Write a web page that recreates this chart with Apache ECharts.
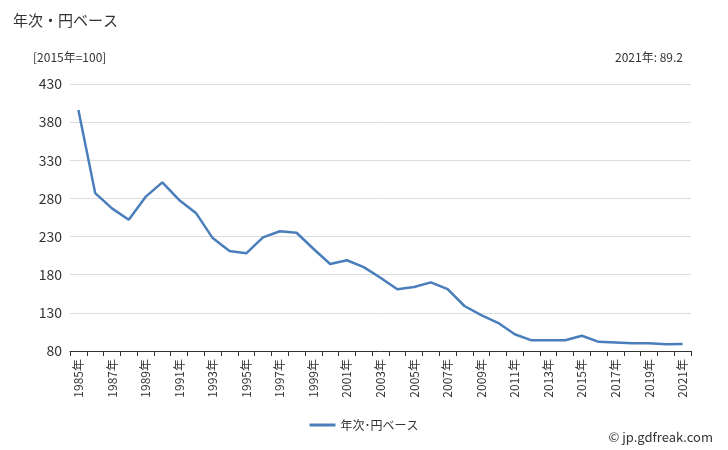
<!DOCTYPE html>
<html>
<head>
<meta charset="utf-8">
<script src="https://cdn.jsdelivr.net/npm/echarts@6/dist/echarts.min.js"></script>
<style>body{margin:0}#chart{width:728px;height:450px}</style>
</head>
<body>
<div id="chart"></div>
<script>
var years = [];
for (var y = 1985; y <= 2021; y++) years.push(y + '年');
var values = [396, 287, 267, 252, 282, 301, 278, 261, 228, 211, 208, 229, 237, 235, 214, 194, 199, 190, 176, 161,
  164, 170, 161, 139, 127, 117, 102, 94, 94, 94, 100, 92, 91, 90, 90, 89, 89.2];

var myChart = echarts.init(document.getElementById('chart'));
var font = '"Noto Sans CJK JP", sans-serif';
var option = {
  textStyle: { fontFamily: font },
  title: [
    { text: '年次・円ベース', left: 8, top: 8, textStyle: { fontSize: 15, fontWeight: 'normal', color: '#333', fontFamily: font } },
    { text: '[2015年=100]', left: 28, top: 46, textStyle: { fontSize: 12, fontWeight: 'normal', color: '#333', fontFamily: font } },
    { text: '2021年: 89.2', right: 40, top: 46, textStyle: { fontSize: 12, fontWeight: 'normal', color: '#333', fontFamily: font } },
    { text: '© jp.gdfreak.com', right: 10, top: 426, textStyle: { fontSize: 13, fontWeight: 'normal', color: '#333', fontFamily: font } }
  ],
  legend: {
    bottom: 14, left: 'center', icon: 'rect', itemWidth: 26, itemHeight: 3,
    textStyle: { fontSize: 12, color: '#333' },
    data: ['年次･円ベース']
  },
  grid: { left: 70, right: 37, top: 84, bottom: 99 },
  xAxis: {
    type: 'category', data: years, boundaryGap: true,
    axisLine: { lineStyle: { color: '#333' } },
    axisTick: { show: true, interval: 0, lineStyle: { color: '#333' } },
    axisLabel: { rotate: 90, interval: 1, fontSize: 12, color: '#333' }
  },
  yAxis: {
    type: 'value', min: 80, max: 430, interval: 50,
    axisLine: { show: false }, axisTick: { show: false },
    axisLabel: { fontSize: 14, color: '#333' },
    splitLine: { lineStyle: { color: '#ddd' } }
  },
  series: [{
    name: '年次･円ベース', type: 'line', data: values, symbol: 'none',
    lineStyle: { color: '#4a7ebb', width: 2.5 }, itemStyle: { color: '#4a7ebb' }
  }]
};
myChart.setOption(option);
</script>
</body>
</html>
